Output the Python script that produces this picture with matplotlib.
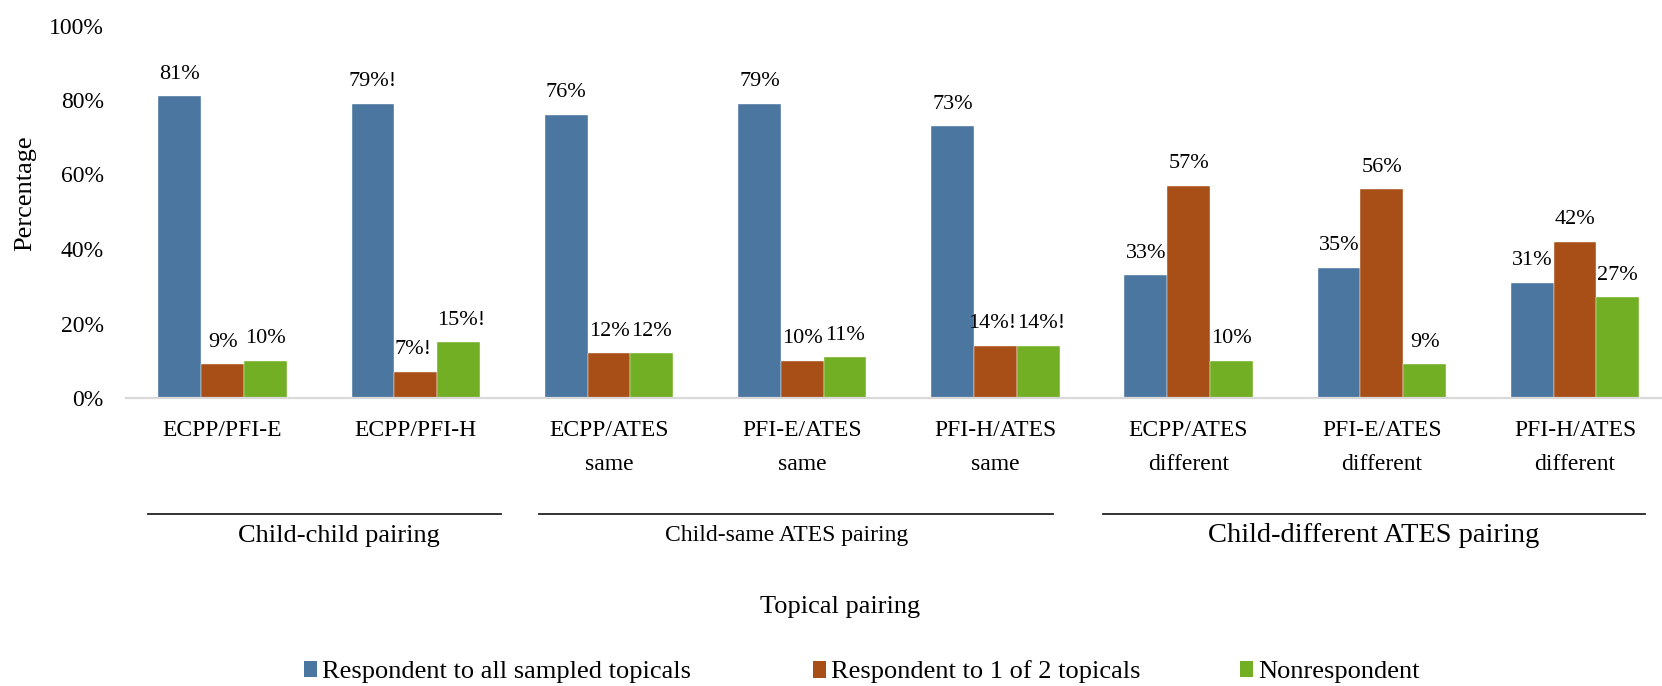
import matplotlib

matplotlib.use("Agg")

import matplotlib.pyplot as plt
import matplotlib.transforms as mtransforms
import numpy as np
from matplotlib.lines import Line2D
from matplotlib.patches import Patch

plt.rcParams["font.family"] = ["Liberation Serif", "DejaVu Serif"]

CATEGORIES = [
    "ECPP/PFI-E",
    "ECPP/PFI-H",
    "ECPP/ATES\nsame",
    "PFI-E/ATES\nsame",
    "PFI-H/ATES\nsame",
    "ECPP/ATES\ndifferent",
    "PFI-E/ATES\ndifferent",
    "PFI-H/ATES\ndifferent",
]
SERIES = [
    "Respondent to all sampled topicals",
    "Respondent to 1 of 2 topicals",
    "Nonrespondent",
]
ALL_TOPICALS = [81, 79, 76, 79, 73, 33, 35, 31]
ONE_OF_TWO = [9, 7, 12, 10, 14, 57, 56, 42]
NONRESPONDENT = [10, 15, 12, 11, 14, 10, 9, 27]
# "!" flags: interpret data with caution
ALL_FLAG = [False, True, False, False, False, False, False, False]
ONE_FLAG = [False, True, False, False, True, False, False, False]
NON_FLAG = [False, True, False, False, True, False, False, False]

GROUPS = ["Child-child pairing", "Child-same ATES pairing", "Child-different ATES pairing"]
GROUP_SPANS = [(-0.386, 1.441), (1.638, 4.298), (4.557, 7.362)]
GROUP_CENTERS = [0.60, 2.92, 5.96]
GROUP_SIZES = [19, 17, 20.5]

COLORS = ["#4A769F", "#A84E17", "#72AF24"]
FLAG_SHIFT = [0, -3, 3]  # px, keeps "14%!14%!" apart
W, H = 1662, 686

fig = plt.figure(figsize=(W / 100, H / 100), dpi=100)
left, bottom, top = 126 / W, 1 - 398 / H, 1 - 25.5 / H
width = 8 * 193.2 / W
ax = fig.add_axes([left, bottom, width, top - bottom])

x = np.arange(len(CATEGORIES))
bw = 0.2215
values = [ALL_TOPICALS, ONE_OF_TWO, NONRESPONDENT]
flags = [ALL_FLAG, ONE_FLAG, NON_FLAG]
for i, (vals, flg) in enumerate(zip(values, flags)):
    ax.bar(x + (i - 1) * bw, vals, bw, color=COLORS[i], label=SERIES[i],
           edgecolor="white", linewidth=0.3)
    for xi, v, f in zip(x + (i - 1) * bw, vals, flg):
        text = f"{v}%!" if f else f"{v}%"
        dx = FLAG_SHIFT[i] * 0.72 if f else 0
        ax.annotate(text, (xi, v), xytext=(dx, 9), textcoords="offset points",
                    ha="center", va="bottom", fontsize=16)

ax.set_xlim(-0.5, 7.5)
ax.set_ylim(0, 100)
ax.set_yticks(np.arange(0, 101, 20))
ax.set_yticklabels([f"{v}%" for v in range(0, 101, 20)], fontsize=17)
ax.set_xticks(x)
ax.set_xticklabels(CATEGORIES, fontsize=17)
for lab in ax.get_xticklabels():
    lab.set_linespacing(1.8)
ax.tick_params(axis="both", length=0)
ax.tick_params(axis="y", pad=16)
ax.tick_params(axis="x", pad=16)
for side in ["top", "right", "left"]:
    ax.spines[side].set_visible(False)
ax.spines["bottom"].set_color("#D9D9D9")
ax.spines["bottom"].set_linewidth(1.6)

trans = mtransforms.blended_transform_factory(ax.transData, fig.transFigure)
for name, (x0, x1), cx, size in zip(GROUPS, GROUP_SPANS, GROUP_CENTERS, GROUP_SIZES):
    fig.add_artist(Line2D([x0, x1], [1 - 514 / H] * 2, transform=trans,
                          color="#222222", linewidth=1.3))
    fig.text(cx, 1 - 536 / H, name, transform=trans,
             ha="center", va="center", fontsize=size)

fig.text(840 / W, 1 - 607 / H, "Topical pairing", ha="center", va="center", fontsize=19)
fig.text(25 / W, 1 - 193 / H, "Percentage", ha="center", va="center",
         rotation=90, fontsize=19)

legend_x = [304, 813, 1240]
for name, color, lx in zip(SERIES, COLORS, legend_x):
    fig.legend(handles=[Patch(facecolor=color, label=name)], loc="center left",
               bbox_to_anchor=(lx / W, 1 - 672 / H), frameon=False, fontsize=19,
               handlelength=0.5, handleheight=0.6, handletextpad=0.2,
               borderpad=0, borderaxespad=0)

fig.savefig("out.png", dpi=100)
